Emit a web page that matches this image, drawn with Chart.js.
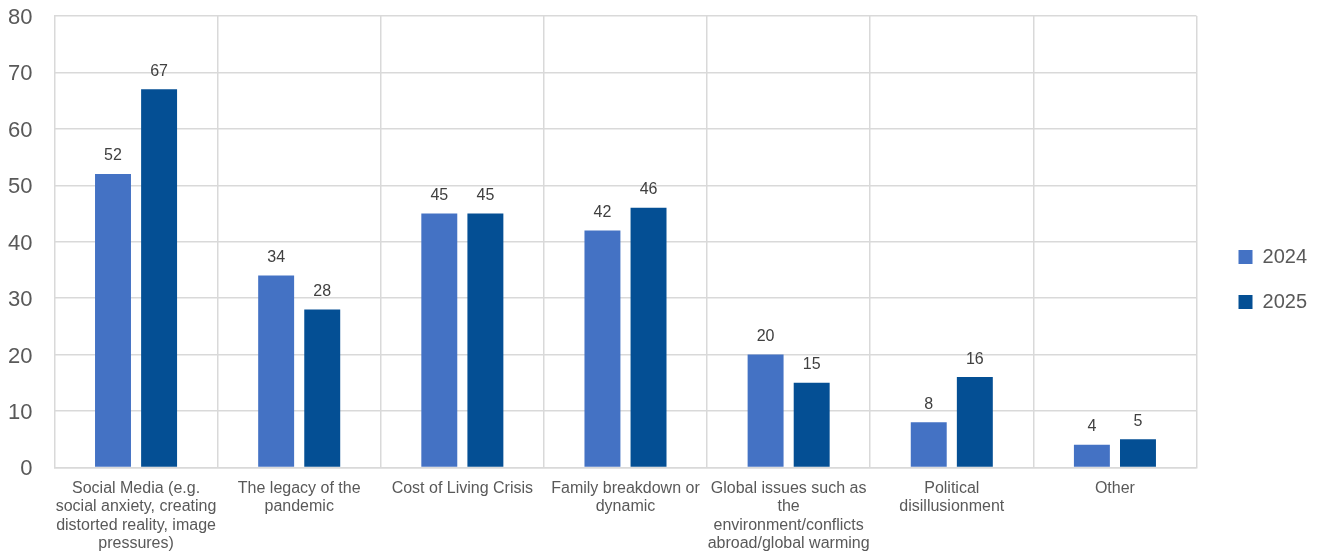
<!DOCTYPE html>
<html>
<head>
<meta charset="utf-8">
<script src="https://cdn.jsdelivr.net/npm/chart.js@4/dist/chart.umd.min.js"></script>
<style>
html,body{margin:0;padding:0;background:#fff;}
#wrap{width:1319px;height:554px;}
</style>
</head>
<body>
<div id="wrap"><canvas id="c" width="1319" height="554"></canvas></div>
<script>
const categories = [
  ["Social Media (e.g.", "social anxiety, creating", "distorted reality, image", "pressures)"],
  ["The legacy of the", "pandemic"],
  ["Cost of Living Crisis"],
  ["Family breakdown or", "dynamic"],
  ["Global issues such as", "the", "environment/conflicts", "abroad/global warming"],
  ["Political", "disillusionment"],
  ["Other"]
];
const values2024 = [52, 34, 45, 42, 20, 8, 4];
const values2025 = [67, 28, 45, 46, 15, 16, 5];
const seriesNames = ["2024", "2025"];
const yTicks = [0, 10, 20, 30, 40, 50, 60, 70, 80];

const FONT = '"Liberation Sans", Arial, sans-serif';

const valueLabels = {
  id: 'valueLabels',
  afterDatasetsDraw(chart) {
    const ctx = chart.ctx;
    ctx.save();
    ctx.font = '16px ' + FONT;
    ctx.fillStyle = '#404040';
    ctx.textAlign = 'center';
    ctx.textBaseline = 'middle';
    chart.data.datasets.forEach((ds, i) => {
      const meta = chart.getDatasetMeta(i);
      meta.data.forEach((bar, j) => {
        ctx.fillText(String(ds.data[j]), bar.x, bar.y - 18);
      });
    });
    ctx.restore();
  }
};

const legendShift = {
  id: 'legendShift',
  afterInit(chart) {
    const lg = chart.legend;
    if (!lg || lg._shifted) return;
    lg._shifted = true;
    const origFit = lg.fit.bind(lg);
    lg.fit = function () { origFit(); this.width += 16; };
    const origDraw = lg.draw.bind(lg);
    lg.draw = function (a) {
      const ctx = this.ctx;
      ctx.save();
      ctx.translate(17, -11);
      origDraw(a);
      ctx.restore();
    };
  }
};

new Chart(document.getElementById('c'), {
  type: 'bar',
  data: {
    labels: categories,
    datasets: [
      { label: seriesNames[0], data: values2024, backgroundColor: '#4472C4' },
      { label: seriesNames[1], data: values2025, backgroundColor: '#044F94' }
    ]
  },
  options: {
    responsive: false,
    animation: false,
    devicePixelRatio: 1,
    categoryPercentage: 0.565,
    barPercentage: 0.78,
    layout: { padding: { top: 16, right: 3, left: -14, bottom: -11 } },
    plugins: {
      tooltip: { enabled: false },
      legend: {
        position: 'right',
        labels: {
          boxWidth: 14,
          boxHeight: 14,
          padding: 25,
          color: '#595959',
          font: { size: 20, family: FONT }
        }
      }
    },
    scales: {
      x: {
        grid: { color: '#d9d9d9', lineWidth: 1.5, offset: true, drawTicks: false },
        border: { color: '#d9d9d9', width: 1.5 },
        ticks: {
          color: '#595959',
          padding: 12,
          maxRotation: 0,
          autoSkip: false,
          font: { size: 16, family: FONT, lineHeight: 1.15 }
        }
      },
      y: {
        min: 0, max: 80,
        afterBuildTicks(axis) { axis.ticks = yTicks.map(v => ({ value: v })); },
        afterFit(axis) { axis.paddingTop = 0; axis.paddingBottom = 0; },
        grid: { color: '#d9d9d9', lineWidth: 1.5, drawTicks: false },
        border: { display: false },
        ticks: {
          color: '#595959',
          padding: 22,
          labelOffset: 2,
          font: { size: 22, family: FONT }
        }
      }
    }
  },
  plugins: [valueLabels, legendShift]
});
</script>
</body>
</html>
